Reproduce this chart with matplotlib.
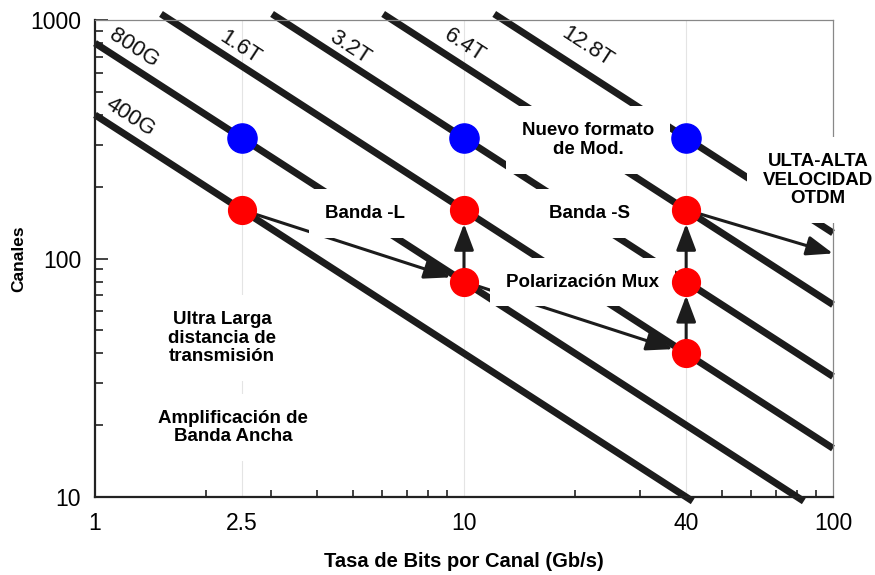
import numpy as np
import matplotlib
matplotlib.use('Agg')
import matplotlib.pyplot as plt
from matplotlib.ticker import FixedLocator, NullFormatter

plt.rcParams['font.family'] = ['Liberation Sans', 'DejaVu Sans']

# capacity lines (Gb/s total) and their labels
capacities = [400, 800, 1600, 3200, 6400, 12800]
cap_labels = ['400G', '800G', '1.6T', '3.2T', '6.4T', '12.8T']
# where each label sits (x, y in data units)
cap_label_x = [1.245, 1.276, 2.47, 4.91, 10.06, 21.6]
cap_label_y = [392, 763, 770, 770, 785, 770]

# bit rate per channel (Gb/s) vs number of channels
blue_rate = [2.5, 10, 40]
blue_chan = [320, 320, 320]
red_rate = [2.5, 10, 10, 40, 40, 40]
red_chan = [160, 160, 80, 160, 80, 40]

# upgrade paths: (from rate, from channels, to rate, to channels)
paths = [
    (2.5, 160, 10, 80),
    (10, 80, 10, 160),
    (10, 80, 40, 40),
    (40, 40, 40, 80),
    (40, 80, 40, 160),
    (40, 160, 100, 105),
]

x_ticks = [1, 2.5, 10, 40, 100]
x_ticklabels = ['1', '2.5', '10', '40', '100']
y_ticks = [10, 100, 1000]

fig = plt.figure(figsize=(8.75, 5.75), dpi=100)
ax = fig.add_axes([95 / 875, 78 / 575, 738 / 875, 477 / 575])
ax.set_xscale('log')
ax.set_yscale('log')
ax.set_xlim(1, 100)
ax.set_ylim(10, 1000)

# faint guide lines at the standard rates
for r in [2.5, 10, 40]:
    ax.axvline(r, color='#e4e4e4', lw=0.8, zorder=0)

# constant-capacity lines: channels = C / rate
for c, lab, lx, ly in zip(capacities, cap_labels, cap_label_x, cap_label_y):
    x0 = max(1, c / 1060)
    x1 = min(100, c / 9.6)
    ax.plot([x0, x1], [c / x0, c / x1], color='#1c1c1c', lw=5,
            solid_capstyle='butt', clip_on=False, zorder=2)
    ax.text(lx, ly, lab, rotation=-33, fontsize=16, ha='center', va='center',
            color='#111111', zorder=3)

# arrows
for x0, y0, x1, y1 in paths:
    ax.annotate('', xy=(x1, y1), xytext=(x0, y0),
                arrowprops=dict(arrowstyle='-|>,head_length=0.8,head_width=0.3',
                                mutation_scale=20, color='#1c1c1c', lw=2.2,
                                shrinkA=0, shrinkB=10 if x1 < 100 else 0),
                zorder=3, annotation_clip=False)

box = dict(facecolor='white', edgecolor='none', boxstyle='square,pad=0.85')
tk = dict(fontsize=13.5, fontweight='bold', ha='center', va='center',
          zorder=4, bbox=box, linespacing=1.1)
ax.text(5.39, 155, 'Banda -L', **tk)
ax.text(21.9, 155, 'Banda -S', **tk)
ax.text(21.7, 314, 'Nuevo formato\nde Mod.', **tk)
ax.text(91, 213, 'ULTA-ALTA\nVELOCIDAD\nOTDM', **tk)
ax.text(21.0, 79.7, 'Polarización Mux', **tk)
ax.text(2.21, 46.4, 'Ultra Larga\ndistancia de\ntransmisión', **tk)
ax.text(2.37, 19.5, 'Amplificación de\nBanda Ancha', **tk)

# channel plans
ax.plot(blue_rate, blue_chan, 'o', color='#0000ff', ms=21, zorder=5, clip_on=False)
ax.plot(red_rate, red_chan, 'o', color='#ff0000', ms=20, zorder=5, clip_on=False)

# axes styling
for side in ['top', 'right']:
    ax.spines[side].set_color('#888888')
    ax.spines[side].set_linewidth(0.9)
for side in ['left', 'bottom']:
    ax.spines[side].set_color('#222222')
    ax.spines[side].set_linewidth(1.6)

ax.set_xticks(x_ticks)
ax.set_xticklabels(x_ticklabels)
ax.xaxis.set_minor_locator(FixedLocator([2, 3, 4, 5, 6, 7, 8, 9, 10,
                                         20, 30, 50, 60, 70, 80, 90]))
ax.xaxis.set_minor_formatter(NullFormatter())
ax.tick_params(axis='x', which='major', length=0, pad=11, labelsize=16.5)
ax.tick_params(axis='x', which='minor', direction='in', length=5, width=1.2,
               color='#222222')

ax.set_yticks(y_ticks)
ax.set_yticklabels(['10', '100', '1000'])
ax.yaxis.set_minor_formatter(NullFormatter())
ax.tick_params(axis='y', which='major', direction='in', length=9, width=1.2,
               pad=10, labelsize=16.5, color='#222222')
ax.tick_params(axis='y', which='minor', direction='in', length=6, width=1.2,
               color='#222222')

ax.set_xlabel('Tasa de Bits por Canal (Gb/s)', fontsize=14.5, fontweight='bold',
              labelpad=12)
ax.set_ylabel('Canales', fontsize=12.5, fontweight='bold', labelpad=3)

fig.savefig('out.png', dpi=100)
